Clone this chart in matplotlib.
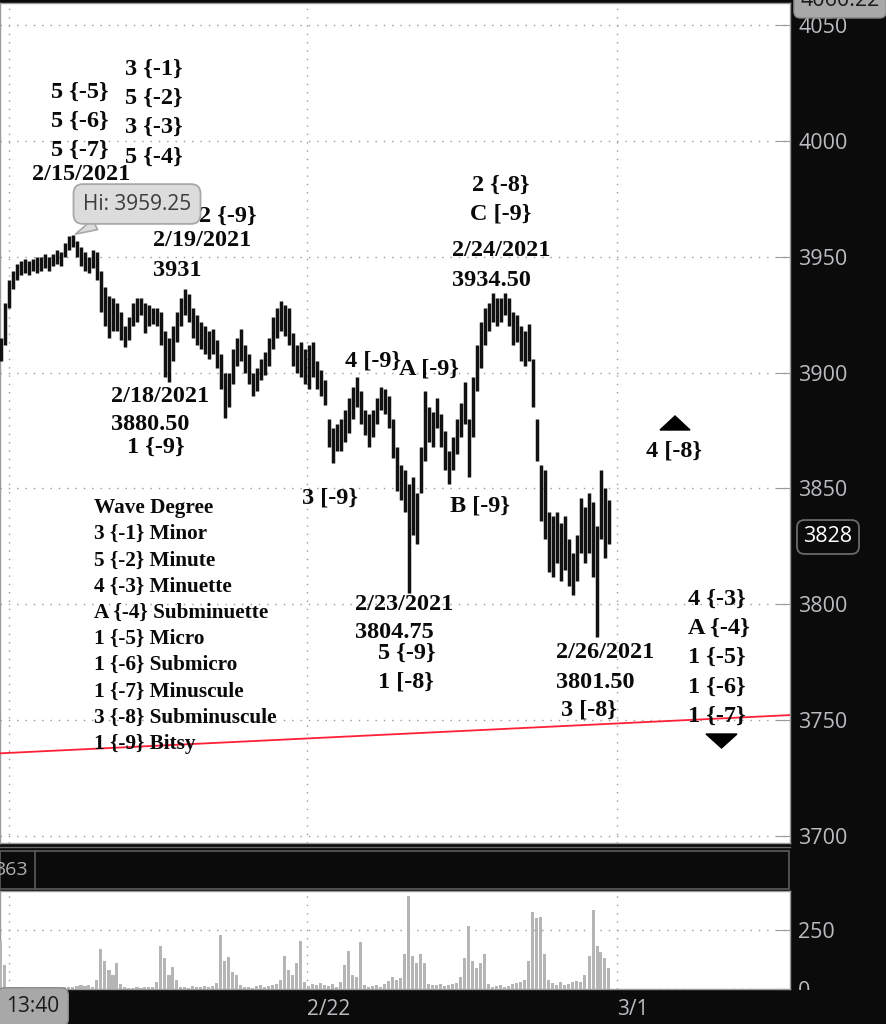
import numpy as np
import matplotlib
matplotlib.use('Agg')
import matplotlib.pyplot as plt
from matplotlib.patches import Rectangle, Polygon
from matplotlib.lines import Line2D

# ---------------- data ----------------
bar_low = [3905, 3912, 3928, 3936, 3940, 3942, 3943, 3942, 3944, 3943,
           3944, 3945, 3944, 3946, 3947, 3946, 3950, 3953, 3954, 3950,
           3946, 3944, 3943, 3945, 3940, 3926, 3920, 3915, 3918, 3918,
           3914, 3911, 3914, 3920, 3922, 3925, 3917, 3920, 3921, 3920,
           3912, 3898, 3896, 3905, 3913, 3920, 3925, 3922, 3915, 3912,
           3910, 3908, 3906, 3908, 3902, 3893, 3880.5, 3885, 3895, 3903,
           3905, 3900, 3895, 3890, 3892, 3897, 3899, 3903, 3910, 3915,
           3918, 3916, 3912, 3903, 3900, 3898, 3895, 3893, 3898, 3893,
           3890, 3886, 3868, 3861, 3866, 3866, 3870, 3874, 3880, 3885,
           3878, 3873, 3868, 3872, 3878, 3884, 3882, 3876, 3863, 3849,
           3845, 3840, 3804.75, 3830, 3826, 3848, 3862, 3870, 3868, 3876,
           3868, 3858, 3852, 3858, 3865, 3872, 3878, 3855, 3872, 3892,
           3902, 3912, 3918, 3922, 3920, 3922, 3925, 3920, 3912, 3913,
           3905, 3903, 3905, 3885, 3862, 3836, 3828, 3814, 3812, 3818,
           3810, 3815, 3808, 3804, 3810, 3822, 3818, 3822, 3812, 3786,
           3828, 3820, 3826]
bar_high = [3915, 3930, 3940, 3944, 3947, 3948, 3949, 3948, 3949, 3950,
            3950, 3951, 3950, 3951, 3953, 3952, 3956, 3959, 3959.25, 3957,
            3954, 3952, 3950, 3953, 3952, 3944, 3937, 3933, 3932, 3930,
            3926, 3920, 3924, 3930, 3932, 3932, 3930, 3929, 3928, 3928,
            3926, 3918, 3915, 3920, 3926, 3932, 3936, 3934, 3928, 3925,
            3922, 3920, 3918, 3919, 3914, 3908, 3900, 3900, 3910, 3915,
            3919, 3912, 3908, 3900, 3902, 3906, 3909, 3915, 3924, 3928,
            3931, 3929, 3928, 3917, 3912, 3913, 3910, 3912, 3913, 3905,
            3901, 3897, 3880, 3876, 3878, 3880, 3884, 3889, 3894, 3898,
            3892, 3884, 3882, 3884, 3889, 3894, 3893, 3890, 3880, 3868,
            3860, 3858, 3852, 3855, 3848, 3868, 3892, 3885, 3883, 3889,
            3882, 3875, 3866, 3872, 3880, 3887, 3896, 3880, 3898, 3912,
            3922, 3928, 3930, 3934.5, 3932, 3932, 3934.5, 3932, 3926, 3925,
            3920, 3918, 3921, 3906, 3880, 3860, 3858, 3840, 3838, 3840,
            3835, 3838, 3828, 3822, 3830, 3846, 3842, 3848, 3844, 3834,
            3858, 3850, 3845]
volume = [205, 100, 8, 6, 5, 7, 6, 5, 4, 6,
          5, 7, 6, 5, 8, 6, 7, 9, 10, 12,
          15, 12, 18, 10, 40, 170, 120, 80, 60, 110,
          20, 8, 6, 5, 7, 6, 9, 8, 10, 30,
          184, 130, 60, 95, 40, 10, 8, 6, 12, 8,
          10, 14, 9, 12, 25, 229, 120, 135, 70, 60,
          15, 8, 10, 6, 12, 15, 9, 14, 18, 20,
          40, 140, 80, 60, 110, 205, 30, 12, 20, 15,
          25, 18, 14, 22, 10, 30, 100, 160, 60, 50,
          200, 15, 10, 12, 15, 8, 20, 35, 50, 40,
          45, 150, 395, 140, 110, 150, 110, 20, 18, 15,
          20, 12, 16, 22, 25, 50, 130, 268, 120, 90,
          110, 150, 20, 10, 12, 15, 10, 14, 20, 25,
          30, 40, 120, 325, 300, 304, 150, 40, 25, 18,
          30, 15, 20, 28, 35, 30, 60, 140, 335, 180,
          155, 130, 90]

price_ticks = [3700, 3750, 3800, 3850, 3900, 3950, 4000, 4050]
vol_ticks = [0, 250]
date_labels = ['13:40', '2/22', '3/1']
trend_start, trend_end = 3735.7, 3752.2
last_price = 3828
top_price_label = '4060.22'
hi_value = 3959.25
pane_value = '363'

wave_labels = [
    ('3 {-1}', 125, 69, 'left'), ('5 {-2}', 125, 98, 'left'),
    ('3 {-3}', 125, 127, 'left'), ('5 {-4}', 125, 157, 'left'),
    ('5 {-5}', 51, 92, 'left'), ('5 {-6}', 51, 121, 'left'),
    ('5 {-7}', 51, 150, 'left'), ('2/15/2021', 32, 175, 'left'),
    ('2 {-9}', 199, 216, 'left'), ('2/19/2021', 153, 241, 'left'),
    ('3931', 153, 271, 'left'),
    ('2/18/2021', 111, 396, 'left'), ('3880.50', 111, 424, 'left'),
    ('1 {-9}', 127, 447, 'left'),
    ('4 [-9}', 345, 361, 'left'), ('A [-9}', 399, 369, 'left'),
    ('3 [-9}', 302, 498, 'left'), ('B [-9}', 450, 506, 'left'),
    ('2/23/2021', 355, 604, 'left'), ('3804.75', 355, 633, 'left'),
    ('5 {-9}', 378, 653, 'left'), ('1 [-8}', 378, 682, 'left'),
    ('2 {-8}', 501, 185, 'center'), ('C [-9}', 501, 214, 'center'),
    ('2/24/2021', 452, 250, 'left'), ('3934.50', 452, 280, 'left'),
    ('4 [-8}', 646, 451, 'left'),
    ('2/26/2021', 556, 653, 'left'), ('3801.50', 556, 683, 'left'),
    ('3 [-8}', 561, 710, 'left'),
    ('4 {-3}', 688, 599, 'left'), ('A {-4}', 688, 628, 'left'),
    ('1 {-5}', 688, 657, 'left'), ('1 {-6}', 688, 687, 'left'),
    ('1 {-7}', 688, 716, 'left'),
]
legend_rows = ['Wave Degree', '3 {-1} Minor', '5 {-2} Minute', '4 {-3} Minuette',
               'A {-4} Subminuette', '1 {-5} Micro', '1 {-6} Submicro',
               '1 {-7} Minuscule', '3 {-8} Subminuscule', '1 {-9} Bitsy']

# ---------------- layout ----------------
W, H = 887, 1024
fig = plt.figure(figsize=(W / 100, H / 100), dpi=100, facecolor='#0b0b0b')


def fx(x):
    return x / W


def fy(y):
    return 1 - y / H


PX_PER_DAY = 62.0
X_ORIGIN = 307.0
xmin, xmax = -X_ORIGIN / PX_PER_DAY, (790 - X_ORIGIN) / PX_PER_DAY
grid_x = [(9 - X_ORIGIN) / PX_PER_DAY, 0.0, 5.0]
n = len(bar_low)
bar_x = (1 + 4 * np.arange(n) - X_ORIGIN) / PX_PER_DAY

axis_col = '#b9bcc0'
grid_kw = dict(color='#9a9a9a', linestyle=(0, (1, 5)), linewidth=1.0)

ax = fig.add_axes([0, fy(843), fx(790), (843 - 3) / H])
ax.set_facecolor('white')
ax.set_xlim(xmin, xmax)
ax.set_ylim(3697.0, 4059.5)
ax.vlines(bar_x, bar_low, bar_high, color='#111111', lw=2.5, zorder=3)
ax.plot([xmin, xmax], [trend_start, trend_end], color='#ff2038', lw=1.3, zorder=4)
ax.set_xticks(grid_x)
ax.set_xticklabels([])
ax.tick_params(axis='x', length=0)
ax.yaxis.tick_right()
ax.set_yticks(price_ticks)
ax.tick_params(axis='y', direction='in', length=10, color='#9a9a9a',
               labelcolor=axis_col, labelsize=15.5, pad=6)
for lab in ax.get_yticklabels():
    lab.set_family('Open Sans')
ax.grid(True, **grid_kw)
for s in ax.spines.values():
    s.set_color('#9a9a9a')
    s.set_linewidth(1.0)

# Hi tooltip
peak_i = int(np.argmax(bar_high))
ax.annotate(f'Hi: {hi_value:.2f}', xy=(bar_x[peak_i], hi_value),
            xytext=(fx(137), fy(204)), textcoords='figure fraction',
            ha='center', va='center', fontsize=15, family='Open Sans', color='#3c3c3c',
            bbox=dict(boxstyle='round,pad=0.45,rounding_size=0.45', fc='#dcdcdc',
                      ec='#a8a8a8', lw=1.3),
            arrowprops=dict(arrowstyle='wedge,tail_width=0.55', fc='#dcdcdc',
                            ec='#a8a8a8', lw=1.2, shrinkA=0, shrinkB=2),
            zorder=10)

serif = ['Liberation Serif', 'DejaVu Serif']
for txt, x, y, ha in wave_labels:
    ax.text(fx(x), fy(y), txt, transform=fig.transFigure, ha=ha, va='center',
            fontsize=17.5, fontweight='bold', family=serif, color='#0a0a0a', zorder=6)
for k, txt in enumerate(legend_rows):
    ax.text(fx(94), fy(508 + 26.2 * k), txt, transform=fig.transFigure, ha='left',
            va='center', fontsize=15.3, fontweight='bold', family=serif,
            color='#0a0a0a', zorder=6)

# triangles (annotation arrows)
up = Polygon([[fx(660), fy(430)], [fx(690), fy(430)], [fx(675), fy(416)]],
             closed=True, transform=fig.transFigure, fc='black', ec='black', zorder=6)
dn = Polygon([[fx(706), fy(734)], [fx(737), fy(734)], [fx(721.5), fy(748)]],
             closed=True, transform=fig.transFigure, fc='black', ec='black', zorder=6)
ax.add_patch(up)
ax.add_patch(dn)
up.set_clip_on(False)
dn.set_clip_on(False)

# volume pane
vax = fig.add_axes([0, fy(989), fx(790), (989 - 891) / H])
vax.set_facecolor('white')
vax.set_xlim(xmin, xmax)
vax.set_ylim(0, 415)
vax.bar(bar_x, volume, width=3.0 / PX_PER_DAY, color='#b5b5b5', zorder=3)
vax.set_xticks(grid_x)
vax.set_xticklabels(['', date_labels[1], date_labels[2]])
for lab in vax.get_xticklabels():
    lab.set_ha('left')
    lab.set_family('Open Sans')
vax.tick_params(axis='x', length=0, labelcolor=axis_col, labelsize=15, pad=7)
vax.yaxis.tick_right()
vax.set_yticks(vol_ticks)
vax.tick_params(axis='y', direction='in', length=10, color='#9a9a9a',
                labelcolor=axis_col, labelsize=15.5, pad=6)
for lab in vax.get_yticklabels():
    lab.set_family('Open Sans')
vax.grid(True, **grid_kw)
for s in vax.spines.values():
    s.set_color('#9a9a9a')
    s.set_linewidth(1.0)

# separator band between panes
fig.add_artist(Line2D([0, fx(790)], [fy(847), fy(847)], transform=fig.transFigure,
                      color='#6a6a6a', lw=1.0))
fig.add_artist(Rectangle((fx(0.5), fy(889)), fx(789), (889 - 851) / H,
                         transform=fig.transFigure, fc='#0b0b0b', ec='#5c5c5c', lw=1.2))
fig.add_artist(Line2D([fx(35), fx(35)], [fy(851), fy(889)], transform=fig.transFigure,
                      color='#5c5c5c', lw=1.2))
fig.text(fx(-6), fy(870), pane_value, ha='left', va='center', color='#b0b0b0',
         fontsize=14, family='Open Sans')

# cover lower half of volume "0" label
fig.add_artist(Rectangle((fx(791), 0), fx(96), (1024 - 990) / H,
                         transform=fig.transFigure, fc='#0b0b0b', ec='none', zorder=2))

# boxed labels
fig.text(fx(33), fy(1007), date_labels[0], ha='center', va='center', fontsize=15,
         family='Open Sans', color='#1a1a1a',
         bbox=dict(boxstyle='round,pad=0.42,rounding_size=0.35', fc='#a8a8a8', ec='#8a8a8a'),
         zorder=5)
fig.text(fx(828), fy(537), f'{last_price}', ha='center', va='center', fontsize=15.5,
         family='Open Sans', color='white',
         bbox=dict(boxstyle='round,pad=0.3,rounding_size=0.35', fc='#0b0b0b',
                   ec='#6a6a6a', lw=1.3), zorder=5)
fig.text(fx(840), fy(1), top_price_label, ha='center', va='center', fontsize=15.5,
         family='Open Sans', color='#1a1a1a',
         bbox=dict(boxstyle='round,pad=0.3,rounding_size=0.3', fc='#a8a8a8', ec='#8a8a8a'),
         zorder=5)

fig.savefig('out.png', dpi=100, facecolor=fig.get_facecolor())
